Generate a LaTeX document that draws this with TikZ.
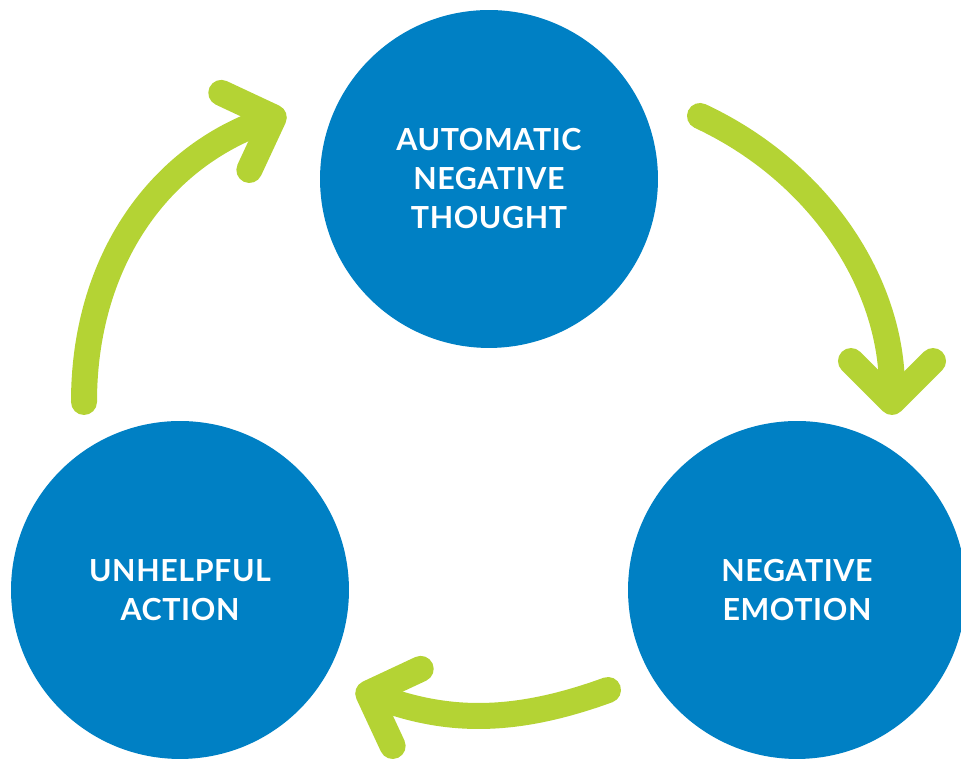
\documentclass[tikz,border=0pt]{standalone}
\usepackage{fontspec}
\setmainfont{Lato}[LetterSpace=2]
\usetikzlibrary{arrows.meta}
\definecolor{cyclblue}{RGB}{0,128,196}
\definecolor{cyclgreen}{RGB}{180,211,52}

\begin{document}
\begin{tikzpicture}[x=0.02cm,y=0.02cm,
	stage/.style={circle,fill=cyclblue,text=white,minimum size=6.76cm,inner sep=0pt,align=center,font=\fontsize{17.3}{22.2}\selectfont\bfseries},
	feedback/.style={draw=cyclgreen,line width=14.8pt,line cap=round,-{Straight Barb[round,length=23.3pt,width=46.7pt]}}]
	\useasboundingbox (0,0) rectangle (961,759);
	%STAGES
	\node[stage] (thought) at (489,580) {AUTOMATIC\\NEGATIVE\\THOUGHT};
	\node[stage] (emotion) at (797,169) {NEGATIVE\\EMOTION};
	\node[stage] (action) at (180,169) {UNHELPFUL\\ACTION};
	
	%ARROW ENDS
	\coordinate (actionout) at (84,357);   \coordinate (thoughtin) at (286,646);
	\coordinate (thoughtout) at (700,643); \coordinate (emotionin) at (892,344);
	\coordinate (emotionout) at (608,69);  \coordinate (actionin) at (356,70);
	
	%CYCLE
	\draw[feedback] (actionout) to[out=90,in=200] (thoughtin);
	\draw[feedback] (thoughtout) to[out=-25,in=90,looseness=0.95] (emotionin);
	\draw[feedback] (emotionout) to[out=200,in=-20] (actionin);
\end{tikzpicture}
\end{document}
